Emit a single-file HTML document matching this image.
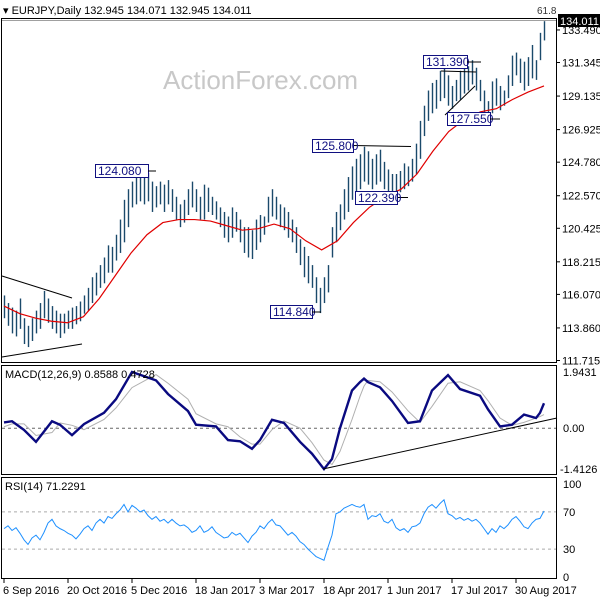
<!DOCTYPE html>
<html><head><meta charset="utf-8"><style>
body{margin:0;background:#fff;}
svg{display:block;font-family:"Liberation Sans",Arial,sans-serif;}
</style></head><body>
<svg id="chart" width="600" height="600" viewBox="0 0 600 600">
<rect x="0" y="0" width="600" height="600" fill="#fff"/>
<text x="3" y="14" font-size="11" fill="#000">▾ EURJPY,Daily  132.945 134.071 132.945 134.011</text>
<text x="163" y="89" font-size="26" fill="#c8c8c8">ActionForex.com</text>
<g id="frames" fill="none" stroke="#000" stroke-width="1">
<rect x="1.5" y="18.5" width="555" height="344"/>
<rect x="1.5" y="365.5" width="555" height="109"/>
<rect x="1.5" y="477.5" width="555" height="101"/>
</g>
<g id="price"></g><g id="macd"></g><g id="rsi"></g><g id="axes"></g>
</svg>
<script>
const barLow=[114.5,114,113.5,113.3,113.8,112.8,112.6,113,113.5,113.8,114.5,114.2,113.8,113.5,113.2,113.5,113.8,113.8,114.1,114.3,114.8,115,115.5,116,116.5,116.8,117.5,117.5,118.3,118.8,119.5,120.5,121.8,122,122.2,122,122.2,121.5,121.8,122,121.5,122,121.5,121,120.5,120.8,121.3,121.8,121.5,121,121,121.5,121.3,121,120.5,119.8,119.5,119.8,120.2,119.5,118.8,118.5,118.4,119,119.5,120,120.8,121.2,121,120.5,120.3,119.8,119.5,118.8,118,117.2,116.8,116.5,115.5,114.84,115.5,116.2,118.5,119.5,120.3,121,121.5,122.3,122.8,123,123.5,123.3,123,123.3,123.5,123,122.6,122.39,122.6,122.8,123,123.2,123.5,124,125,126.5,127.5,128,128.3,128.8,129,128.5,128.3,128.8,128.9,129.3,129.5,129.9,129.5,128.8,127.8,127.55,128,128.5,128.2,128.5,129,129.8,130.5,130,129.5,129.8,130.3,130.2,131.5,132.8];
const barHigh=[116,115.5,115.2,115,115.8,114.5,114,114.5,115,115.5,116.3,115.8,115.3,115,114.8,114.8,115,115.2,115.3,115.6,116,116.5,117.2,117.5,118,118.5,119.3,119.2,120,121,122.3,123,123.5,123.8,124.1,123.8,124.08,123.5,123.2,123.5,123.3,123.6,123,122.5,122,122.3,123,123.5,123,122.5,123.3,123.1,122.5,122.2,121.8,121.5,121.2,121.8,121.5,121,120.5,120.5,120.3,121,121.3,121.2,122.5,123,122.5,122,121.8,121.5,121,120.5,119.7,119.2,118.6,118,117.2,116.5,117.2,118,120.5,121.5,122,123,123.8,124.5,125,125.3,125.8,125.5,125,125.3,125.6,124.8,124.3,124,124,124.2,124.7,124.5,125,126,127.5,128.5,129.5,130,130.2,130.8,131,130.5,129.8,130.2,130.8,131.3,131.1,131.5,131,130.2,129.5,128.8,130.1,130.3,129.8,129.5,130.5,131.8,132,131.6,131.4,131.7,132.5,131.5,133.3,134.07];
const maValues=[115.3,114.8,114.5,114.3,114.2,114.6,115.8,117.3,118.8,120.0,120.8,121.0,121.0,120.9,120.6,120.3,120.4,120.7,120.4,119.6,119.0,119.6,120.8,121.8,122.5,123.0,124.0,125.5,126.8,127.6,128.1,128.3,128.9,129.4,129.8];
const macdBars=[0,2,5,8,12,14,17,20,25,28,32,38,41,46,48,53,56,59,62,64,67,70,74,77,80,82,84,87,89,90,91,94,97,101,104,107,111,114,119,121,124,127,130,133,134,135];
const macdMain=[0.20,0.24,-0.06,-0.47,0.24,0.12,-0.24,0.14,0.53,1.00,1.94,1.65,1.18,0.59,0.12,0.06,-0.41,-0.45,-0.71,-0.41,0.29,0.18,-0.47,-0.88,-1.41,-1.06,0,1.30,1.59,1.71,1.59,1.41,0.94,0.18,0.24,1.30,1.83,1.35,1.12,0.65,0.06,0.12,0.47,0.35,0.53,0.86];
const macdSignal=[0.05,0.15,0.15,-0.25,-0.15,0.18,0.1,-0.05,0.3,0.7,1.4,1.85,1.55,1.0,0.5,0.15,0.05,-0.3,-0.55,-0.55,-0.05,0.25,0,-0.5,-1.1,-1.25,-0.8,0.3,1.1,1.45,1.65,1.6,1.25,0.6,0.2,0.75,1.55,1.6,1.3,0.95,0.35,0.1,0.2,0.35,0.4,0.47];
const rsiValues=[52,55,50,53,47,40,35,42,45,40,48,58,62,55,52,50,47,45,41,46,52,55,50,58,62,58,65,63,68,72,78,70,77,74,70,72,66,62,65,60,62,58,62,58,55,56,53,48,50,55,48,50,54,48,45,42,43,48,45,47,42,37,44,48,55,52,58,62,56,55,50,45,48,44,38,35,30,26,22,20,18,32,45,68,70,74,76,78,76,75,78,62,66,65,68,60,58,62,53,50,52,48,54,55,58,68,75,78,74,79,83,68,66,62,64,61,63,60,62,58,52,46,52,48,55,52,56,62,65,60,54,52,58,62,63,71];
const priceTicks=[133.490,131.345,129.135,126.925,124.780,122.570,120.425,118.215,116.070,113.860,111.715];
const dateLabels=["6 Sep 2016","20 Oct 2016","5 Dec 2016","18 Jan 2017","3 Mar 2017","18 Apr 2017","1 Jun 2017","17 Jul 2017","30 Aug 2017"];
const dateBars=[0,16,32,48,64,80,96,112,128];
const rsiTicks=[100,70,30,0];

const NS="http://www.w3.org/2000/svg";
const xB=i=>4+i*4;
const yP=p=>360.5-(p-111.715)*15.18;
const yM=v=>428.2-v*29;
const yR=v=>577-v*0.93;
function mk(parent,tag,attrs){const e=document.createElementNS(NS,tag);for(const k in attrs)e.setAttribute(k,attrs[k]);parent.appendChild(e);return e;}
const gp=document.getElementById('price'),gm=document.getElementById('macd'),gr=document.getElementById('rsi'),ga=document.getElementById('axes');

let l=mk(gp,'line',{x1:2,x2:556,y1:20.5,y2:20.5,stroke:'#a0a0a0'});


let t=mk(gp,'text',{x:537,y:14,'font-size':10,fill:'#333'});t.textContent='61.8';



barLow.forEach((lo,i)=>{
  const b=mk(gp,'line',{x1:xB(i)+.5,x2:xB(i)+.5,y1:yP(barHigh[i]),y2:yP(lo),stroke:'#1b4a6b','stroke-width':1.4});
  
  
});
let pts=maValues.map((v,k)=>xB(k*135/34)+','+yP(v)).join(' ');
l=mk(gp,'polyline',{points:pts,fill:'none',stroke:'#e00000','stroke-width':1.2});



[[2,276,72,298],[2,357,82,344],[353,145.5,411,146.5],[397,197.5,408,197.5],[445,115,475,86],[441,71,476,72]].forEach(c=>{
  const e=mk(gp,'line',{x1:c[0],y1:c[1],x2:c[2],y2:c[3],stroke:'#000','stroke-width':1});
  
  
});
[["124.080",95,164,148],["125.800",312,139,353],["122.390",355,191,397],["114.840",270,305,312],["131.390",423,55,467],["127.550",447,112,490]].forEach(a=>{
  const g=mk(gp,'g',{});
  
  
  mk(g,'rect',{x:a[1]+.5,y:a[2]+.5,width:a[3]-a[1],height:13,fill:'#fff',stroke:'#101080'});
  const tx=mk(g,'text',{x:a[1]+3,y:a[2]+11,'font-size':12,fill:'#101080'});tx.textContent=a[0];
});
[[148,171,156,171],[312,312,321,312],[467,62,481,62],[490,119,500,119]].forEach(c=>{
  const e=mk(gp,'line',{x1:c[0],y1:c[1],x2:c[2],y2:c[3],stroke:'#000'});
  
  
});

l=mk(gm,'line',{x1:2,x2:556,y1:yM(0),y2:yM(0),stroke:'#666','stroke-dasharray':'3,3'});


l=mk(gm,'polyline',{points:macdBars.map((b,i)=>xB(b)+','+yM(macdSignal[i])).join(' '),fill:'none',stroke:'#b0b0b0','stroke-width':1});


l=mk(gm,'polyline',{points:macdBars.map((b,i)=>xB(b)+','+yM(macdMain[i])).join(' '),fill:'none',stroke:'#0a0a80','stroke-width':2.4});


l=mk(gm,'line',{x1:323,y1:469,x2:557,y2:418,stroke:'#000'});


t=mk(gm,'text',{x:5,y:378,'font-size':11,fill:'#000'});t.textContent='MACD(12,26,9) 0.8588 0.4728';



[70,30].forEach(v=>{const e=mk(gr,'line',{x1:2,x2:556,y1:yR(v),y2:yR(v),stroke:'#aaa','stroke-dasharray':'3,3'});
  
  });
l=mk(gr,'polyline',{points:rsiValues.map((v,i)=>xB(i)+','+yR(v)).join(' '),fill:'none',stroke:'#1e90ff','stroke-width':1});


t=mk(gr,'text',{x:5,y:490,'font-size':11,fill:'#000'});t.textContent='RSI(14) 71.2291';



priceTicks.forEach(p=>{const tx=mk(ga,'text',{x:562,y:yP(p)+4,'font-size':11,fill:'#000'});tx.textContent=p.toFixed(3);
  
  
  mk(ga,'line',{x1:557,x2:560,y1:yP(p),y2:yP(p),stroke:'#000'});});
const box=mk(ga,'rect',{x:558,y:14,width:42,height:13,fill:'#000'});


t=mk(ga,'text',{x:560,y:25,'font-size':11,fill:'#fff'});t.textContent='134.011';


[[1.9431,'1.9431'],[0,'0.00'],[-1.4126,'-1.4126']].forEach(a=>{const tx=mk(ga,'text',{x:a[0]<0?560:563,y:yM(a[0])+4,'font-size':11,fill:'#000'});tx.textContent=a[1];
  
  });
rsiTicks.forEach(v=>{const tx=mk(ga,'text',{x:563,y:yR(v)+4,'font-size':11,fill:'#000'});tx.textContent=v;
  
  });
dateLabels.forEach((d,i)=>{const x=xB(dateBars[i]);
  mk(ga,'line',{x1:x,x2:x,y1:579,y2:583,stroke:'#000'});
  const tx=mk(ga,'text',{x:x-1,y:594,'font-size':11,fill:'#000'});tx.textContent=d;
  
  });
</script>
</body></html>
